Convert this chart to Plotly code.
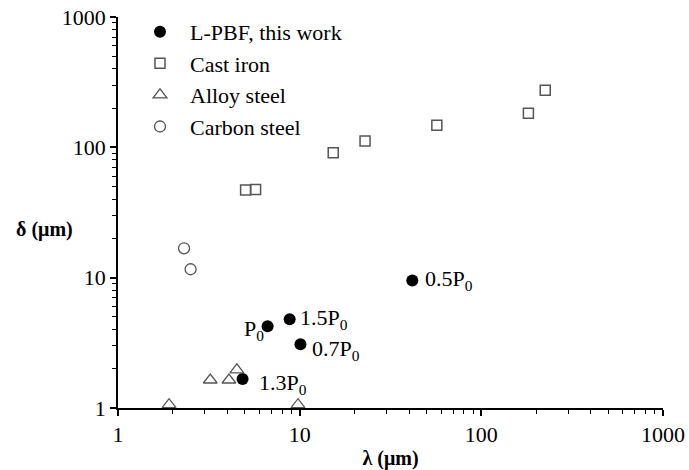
import math
import plotly.graph_objects as go

# L-PBF, this work
lpbf_x = [6.66, 8.81, 10.1, 4.85, 41.7]
lpbf_y = [4.24, 4.8, 3.09, 1.67, 9.53]
lpbf_labels = ["P<sub>0</sub>", "1.5P<sub>0</sub>", "0.7P<sub>0</sub>", "1.3P<sub>0</sub>", "0.5P<sub>0</sub>"]

# Cast iron
cast_x = [5.04, 5.72, 15.3, 22.9, 56.9, 181.6, 224.8]
cast_y = [47.0, 47.4, 91, 112, 148, 183, 274]

# Alloy steel
alloy_x = [1.91, 3.22, 4.08, 4.51, 9.79]
alloy_y = [1.06, 1.64, 1.64, 1.96, 1.06]

# Carbon steel
carbon_x = [2.31, 2.51]
carbon_y = [16.8, 11.6]

tick_vals = [1, 10, 100, 1000]
tick_text = ["1", "10", "100", "1000"]
minor_vals = [m * d for d in (1, 10, 100) for m in range(2, 10)]

FONT = "Liberation Serif, Times New Roman, serif"
GRAY = "#555555"

fig = go.Figure()
fig.add_trace(go.Scatter(x=lpbf_x, y=lpbf_y, mode="markers", name="L-PBF, this work",
                         marker=dict(symbol="circle", size=12, color="black"), cliponaxis=False))
fig.add_trace(go.Scatter(x=cast_x, y=cast_y, mode="markers", name="Cast iron",
                         marker=dict(symbol="square-open", size=10, color=GRAY, line=dict(width=1.5)), cliponaxis=False))
fig.add_trace(go.Scatter(x=alloy_x, y=alloy_y, mode="markers", name="Alloy steel",
                         marker=dict(symbol="triangle-up-open", size=12, color=GRAY, line=dict(width=1.3)), cliponaxis=False))
fig.add_trace(go.Scatter(x=carbon_x, y=carbon_y, mode="markers", name="Carbon steel",
                         marker=dict(symbol="circle-open", size=11, color=GRAY, line=dict(width=1.3)), cliponaxis=False))

# point labels (log axes: annotation positions are given in log10 units)
offsets = [(-2, "right", -4), (8, "left", 0), (10, "left", -6), (14, "left", -5), (11, "left", 0)]
for x, y, t, (dx, anc, dy) in zip(lpbf_x, lpbf_y, lpbf_labels, offsets):
    fig.add_annotation(x=math.log10(x), y=math.log10(y), xref="x", yref="y", text=t, showarrow=False,
                       xanchor=anc, yanchor="middle", xshift=dx, yshift=dy,
                       font=dict(family=FONT, size=22, color="black"))

fig.add_annotation(x=-0.135, y=0.457, xref="paper", yref="paper", text="<b>δ (μm)</b>", showarrow=False,
                   xanchor="center", yanchor="middle", font=dict(family=FONT, size=20, color="black"))

axis_common = dict(type="log", range=[0, 3], tickvals=tick_vals, ticktext=tick_text,
                   showline=True, linecolor="black", linewidth=1.5, mirror=False,
                   ticks="outside", ticklen=6, tickwidth=1.5, tickcolor="black",
                   minor=dict(tickmode="array", tickvals=minor_vals, ticks="outside", ticklen=4,
                              tickwidth=1.2, tickcolor="black", showgrid=False),
                   showgrid=False, zeroline=False, automargin=False,
                   tickfont=dict(family=FONT, size=22, color="black"))
fig.update_xaxes(**axis_common,
                 title=dict(text="<b>λ (μm)</b>", font=dict(family=FONT, size=20, color="black"), standoff=5))
fig.update_yaxes(**axis_common)

fig.update_layout(
    width=689, height=470,
    margin=dict(l=118, r=26, t=16, b=62),
    paper_bgcolor="white", plot_bgcolor="white",
    font=dict(family=FONT, size=22, color="black"),
    legend=dict(x=0.022, y=1.013, xanchor="left", yanchor="top", itemwidth=50,
                bgcolor="rgba(0,0,0,0)", font=dict(family=FONT, size=22, color="black")),
)

fig.write_html("out.html")
